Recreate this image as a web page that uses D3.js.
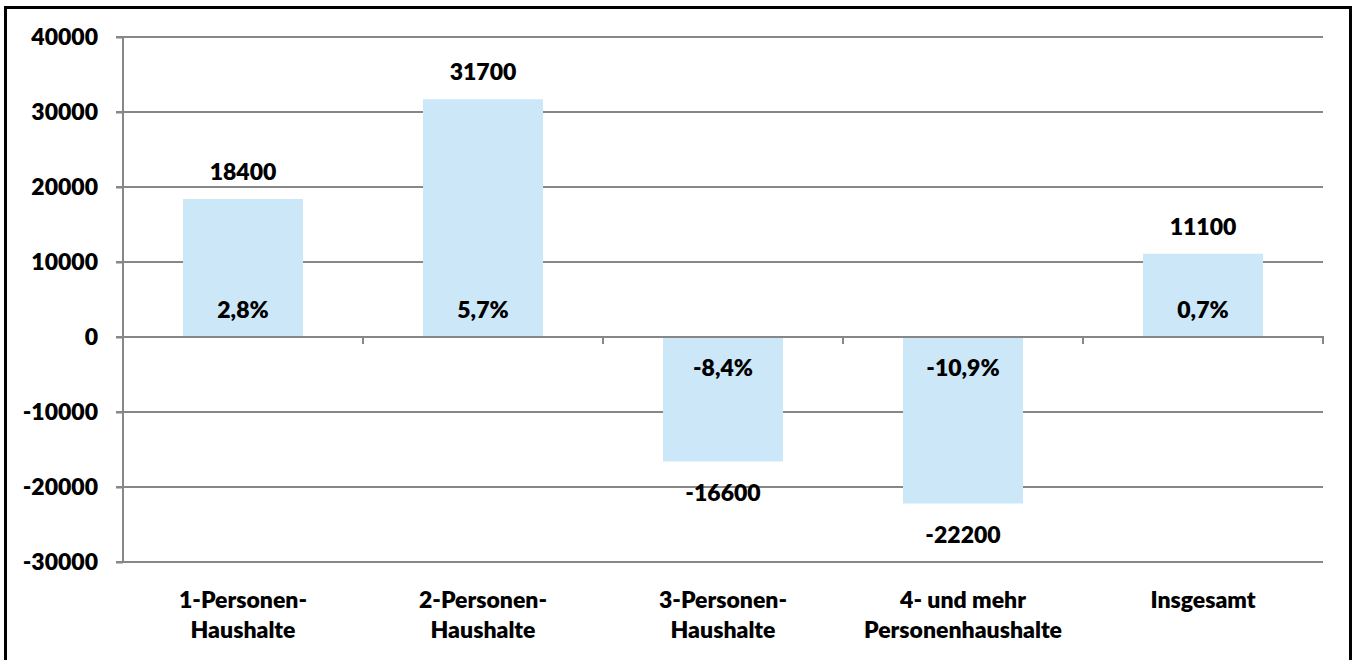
<!DOCTYPE html>
<html>
<head>
<meta charset="utf-8">
<script src="https://cdn.jsdelivr.net/npm/d3@7"></script>
<style>
  html, body { margin: 0; padding: 0; background: #fff; }
  svg { display: block; }
  text { font-family: Lato, "Open Sans", sans-serif; font-weight: 800; fill: #000; }
</style>
</head>
<body>
<svg id="chart" width="1358" height="660"></svg>
<script>
const categories = [
  ["1-Personen-", "Haushalte"],
  ["2-Personen-", "Haushalte"],
  ["3-Personen-", "Haushalte"],
  ["4- und mehr", "Personenhaushalte"],
  ["Insgesamt"]
];
const values = [18400, 31700, -16600, -22200, 11100];
const percentLabels = ["2,8%", "5,7%", "-8,4%", "-10,9%", "0,7%"];
const yTicks = [-30000, -20000, -10000, 0, 10000, 20000, 30000, 40000];

(function () {
const svg = d3.select("#chart");
const pLeft = 123, pRight = 1323, pTop = 37, pBottom = 562;
const gridColor = "#878787";
const barColor = "#cce8f8";
const fs = 23;

// Outer frame
svg.append("rect")
  .attr("x", 5.5).attr("y", 7.5)
  .attr("width", 1345).attr("height", 700)
  .attr("fill", "none").attr("stroke", "#000").attr("stroke-width", 3);

const idx = categories.map((c, i) => i);
const x = d3.scaleBand().domain(idx).range([pLeft, pRight]).paddingInner(0.5).paddingOuter(0.25);
const y = d3.scaleLinear().domain([-30000, 40000]).range([pBottom, pTop]);

// Gridlines
svg.append("g").selectAll("line").data(yTicks.filter(t => t !== 0)).join("line")
  .attr("x1", pLeft - 7).attr("x2", pRight)
  .attr("y1", d => y(d)).attr("y2", d => y(d))
  .attr("stroke", gridColor).attr("stroke-width", 2);

// Bars
svg.append("g").selectAll("rect").data(values).join("rect")
  .attr("x", (d, i) => x(i))
  .attr("width", x.bandwidth())
  .attr("y", d => Math.min(y(d), y(0)))
  .attr("height", d => Math.abs(y(d) - y(0)))
  .attr("fill", barColor);

// Y axis
const yAxis = d3.axisLeft(y).tickValues(yTicks).tickSize(7).tickPadding(18).tickFormat(d => String(d));
const gy = svg.append("g").attr("transform", `translate(${pLeft},0)`).call(yAxis);
gy.select(".domain").attr("stroke", gridColor).attr("stroke-width", 2).attr("d", `M0,${pBottom + 1}V${pTop - 1}`);
gy.selectAll(".tick line").attr("stroke", gridColor).attr("stroke-width", 2);
gy.selectAll(".tick text").attr("font-size", fs).attr("font-family", "Lato, sans-serif").attr("font-weight", 800).attr("fill", "#000");

// Zero line (category axis)
svg.append("line")
  .attr("x1", pLeft - 7).attr("x2", pRight + 1)
  .attr("y1", y(0)).attr("y2", y(0))
  .attr("stroke", gridColor).attr("stroke-width", 2);

// Category boundary ticks
const bounds = idx.map(i => x(i) + x.bandwidth() + x.step() * x.paddingInner() / 2);
svg.append("g").selectAll("line").data(bounds).join("line")
  .attr("x1", d => d).attr("x2", d => d)
  .attr("y1", y(0)).attr("y2", y(0) + 7)
  .attr("stroke", gridColor).attr("stroke-width", 2);

// Value labels
svg.append("g").selectAll("text").data(values).join("text")
  .attr("x", (d, i) => x(i) + x.bandwidth() / 2)
  .attr("y", d => d >= 0 ? y(d) - 19 : y(d) + 39)
  .attr("text-anchor", "middle")
  .attr("font-size", fs)
  .text(d => String(d));

// Percent labels
svg.append("g").selectAll("text").data(percentLabels).join("text")
  .attr("x", (d, i) => x(i) + x.bandwidth() / 2)
  .attr("y", (d, i) => values[i] >= 0 ? y(0) - 19 : y(0) + 39)
  .attr("text-anchor", "middle")
  .attr("font-size", fs)
  .text(d => d);

// Category labels
const cl = svg.append("g").selectAll("text").data(categories).join("text")
  .attr("x", (d, i) => x(i) + x.bandwidth() / 2)
  .attr("y", pBottom + 46)
  .attr("text-anchor", "middle")
  .attr("font-size", fs);
cl.selectAll("tspan").data(d => d).join("tspan")
  .attr("x", function() { return this.parentNode.getAttribute("x"); })
  .attr("dy", (d, j) => j === 0 ? 0 : 30)
  .text(d => d);
})();
</script>
</body>
</html>
